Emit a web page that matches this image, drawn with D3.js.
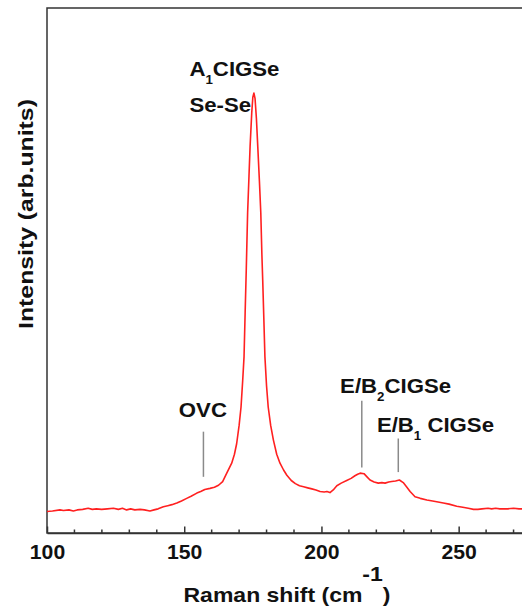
<!DOCTYPE html>
<html>
<head>
<meta charset="utf-8">
<script src="https://cdn.jsdelivr.net/npm/d3@7"></script>
<style>
  body { margin: 0; background: #fff; }
  text { font-family: Arial, "Liberation Sans", sans-serif; font-weight: bold; fill: #111; }
</style>
</head>
<body>
<div id="chart"></div>
<script>
// Raman spectrum (wavenumber in cm-1, intensity in arb. units)
const shift = [
  100, 102, 104.7, 106, 108, 109.6, 111, 113, 115, 116.5, 118, 119.9, 122, 124.2, 126, 127.5,
  129, 130.5, 132, 133.9, 135.5, 137.5, 139, 140.5, 142.4, 144, 145.5, 147.3, 149, 150.9,
  152.5, 154.6, 156, 157.5, 159.4, 161, 162.5, 164, 165.5, 167.3, 168.3, 169.1, 170, 170.7,
  171.3, 171.8, 172.2, 172.6, 173.1, 173.6, 174, 174.6, 175, 175.4, 175.8, 176.3, 176.8,
  177.4, 177.9, 178.3, 178.6, 179, 179.4, 180, 180.6, 181.5, 182.5, 183.7, 184.9, 186.2,
  187.4, 189, 190.5, 192, 193.5, 195, 196.5, 198, 199.5, 201, 202, 203.1, 204.3, 205.6,
  207.2, 209.2, 210.8, 212.2, 213.2, 214.1, 215.5, 216.6, 217.7, 219.2, 220.7, 222, 223.2,
  224.5, 225.6, 227, 228.4, 229.8, 231, 232.3, 234.1, 236, 238.4, 240.5, 242.5, 244.4,
  246.5, 249.3, 251.5, 253.5, 255.4, 257, 258.5, 260.7, 262, 263.5, 265, 267.8, 270, 272,
  274, 276
];
const intensity = [
  41, 42, 44, 43, 44, 42, 44, 45, 47, 45, 46, 45, 46, 47, 45, 47,
  44, 46, 44, 45, 44, 42, 44, 46, 50, 52, 54, 57, 61, 66,
  70, 76, 79, 83, 85, 87, 91, 98, 114, 133, 150, 170, 205, 240,
  290, 336, 420, 500, 610, 680, 736, 800, 830, 838, 828, 790, 736,
  670, 610, 530, 482, 410, 336, 280, 240, 205, 177, 150, 133, 120,
  110, 100, 94, 90, 88, 86, 84, 82, 79, 78, 79, 77, 82, 90,
  95, 100, 104, 109, 112, 114, 113, 107, 101, 97, 95, 96, 95,
  97, 98, 99, 101, 96, 88, 79, 69, 66, 63, 61, 59, 57,
  55, 51, 49, 47, 45, 45, 46, 47, 46, 47, 46, 46, 47, 46,
  46, 46
];

// peak marker lines: wavenumber, top, bottom (arb. units)
const markerShift = [157.0, 214.7, 228.0];
const markerTop = [193, 252, 180];
const markerBottom = [107, 125, 116];

const majorTicks = [100, 150, 200, 250];
const minorTicks = d3.range(110, 280, 10).filter((v) => v % 50 !== 0);

const width = 522;
const height = 608;
const plot = { left: 47, top: 8, bottom: 533, right: 541 };

const x = d3.scaleLinear().domain([100, 280]).range([plot.left, plot.right]);
const y = d3.scaleLinear().domain([0, 1000]).range([plot.bottom, plot.top]);

const svg = d3.select('#chart').append('svg')
  .attr('width', width)
  .attr('height', height);

svg.append('clipPath').attr('id', 'clip')
  .append('rect')
  .attr('x', plot.left).attr('y', plot.top)
  .attr('width', plot.right - plot.left).attr('height', plot.bottom - plot.top);

// frame
svg.append('rect')
  .attr('x', plot.left).attr('y', plot.top)
  .attr('width', plot.right - plot.left).attr('height', plot.bottom - plot.top)
  .attr('fill', 'none')
  .attr('stroke', '#333')
  .attr('stroke-width', 1.5);

// bottom axis
const xAxis = svg.append('g')
  .attr('transform', `translate(0,${plot.bottom})`)
  .call(d3.axisBottom(x).tickValues(majorTicks).tickSize(-6.5).tickSizeOuter(0).tickFormat(d3.format('d')));
xAxis.select('.domain').attr('stroke', '#333').attr('stroke-width', 1.5);
xAxis.selectAll('.tick line').attr('stroke', '#333').attr('stroke-width', 1.5);
xAxis.selectAll('.tick text')
  .attr('y', 26).attr('dy', null)
  .attr('fill', '#111')
  .style('font-size', '20px')
  .style('font-family', 'Arial, "Liberation Sans", sans-serif')
  .style('font-weight', 'bold')
  .attr('transform', 'scale(1.06,1)');

svg.append('g')
  .selectAll('line')
  .data(minorTicks)
  .join('line')
  .attr('x1', (d) => x(d)).attr('x2', (d) => x(d))
  .attr('y1', plot.bottom).attr('y2', plot.bottom - 3.5)
  .attr('stroke', '#333')
  .attr('stroke-width', 1.5);

// spectrum
const line = d3.line()
  .x((d, i) => x(shift[i]))
  .y((d) => y(d));

svg.append('path')
  .datum(intensity)
  .attr('clip-path', 'url(#clip)')
  .attr('d', line)
  .attr('fill', 'none')
  .attr('stroke', '#ff2020')
  .attr('stroke-width', 1.6)
  .attr('stroke-linejoin', 'round');

// peak markers
svg.append('g')
  .selectAll('line')
  .data(markerShift)
  .join('line')
  .attr('x1', (d) => x(d)).attr('x2', (d) => x(d))
  .attr('y1', (d, i) => y(markerTop[i])).attr('y2', (d, i) => y(markerBottom[i]))
  .attr('stroke', '#8a8a8a')
  .attr('stroke-width', 1.5);

// labels: text is drawn slightly stretched horizontally like the original
function label(px, py, parts, { size = 20, anchor = 'start', sx = 1.11 } = {}) {
  const t = svg.append('text')
    .attr('transform', `translate(${px},${py}) scale(${sx},1)`)
    .attr('text-anchor', anchor)
    .style('font-size', `${size}px`);
  parts.forEach(([str, kind]) => {
    const s = t.append('tspan').text(str);
    if (kind === 'sub') s.style('font-size', '12px').attr('dy', 8);
    if (kind === 'back') s.attr('dy', -8);
  });
  return t;
}

label(x(151.9), y(870), [['A'], ['1', 'sub'], ['CIGSe', 'back']]);
label(x(151.9), y(802), [['Se-Se']]);
label(x(156.8), y(221.5), [['OVC']], { anchor: 'middle' });
label(x(206.8), y(266), [['E/B'], ['2', 'sub'], ['CIGSe', 'back']]);
label(x(220.2), y(193), [['E/B'], ['1', 'sub'], [' CIGSe', 'back']]);

// axis titles
const xt = svg.append('text')
  .attr('transform', 'translate(287,601.7) scale(1.15,1)')
  .attr('text-anchor', 'middle')
  .style('font-size', '20px');
xt.append('tspan').text('Raman shift (cm');
xt.append('tspan').text('-1').attr('dy', -21);
xt.append('tspan').text(')').attr('dy', 21);

svg.append('text')
  .attr('transform', 'translate(33,214) rotate(-90) scale(1.18,1)')
  .attr('text-anchor', 'middle')
  .style('font-size', '21px')
  .text('Intensity (arb.units)');
</script>
</body>
</html>
